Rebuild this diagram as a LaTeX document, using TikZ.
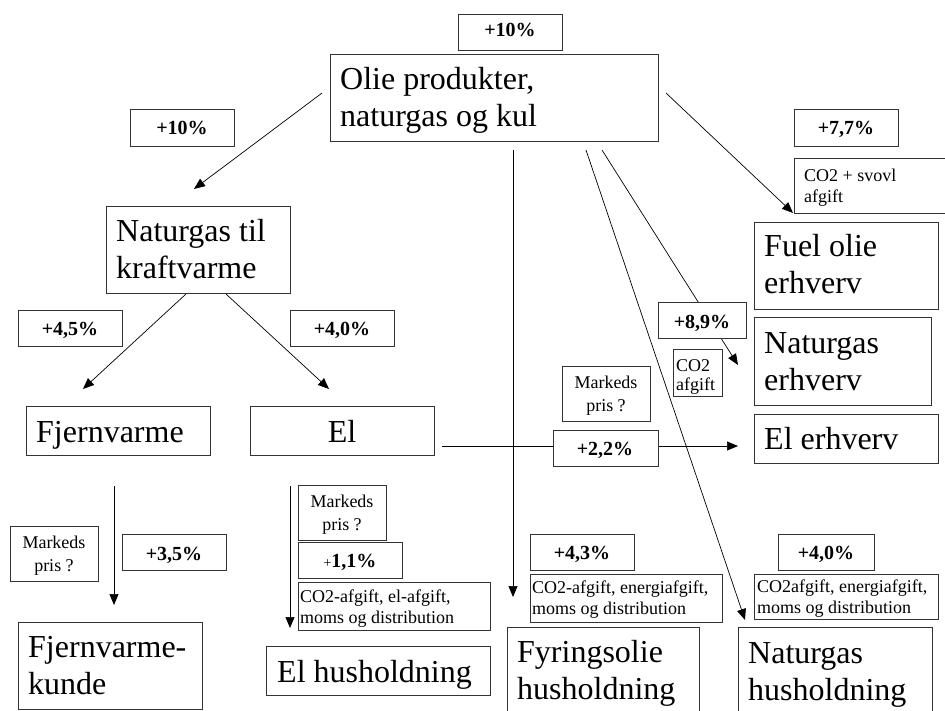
\documentclass[tikz,border=0pt]{standalone}
\usepackage{fontspec}
\setmainfont{Liberation Serif}
\usetikzlibrary{arrows.meta,backgrounds}
\newcommand\twol[2]{\vtop{\hbox{#1}\hbox{#2}}}
\newcommand\twoc[2]{\vtop{\halign{\hfil##\hfil\cr#1\cr#2\cr}}}
\newcommand\mybox[5]{\node[box, minimum width={(#4-#2)*1pt}, minimum height={(#5-#3)*1pt}] (#1) at ({(#2+#4)/2},{(#3+#5)/2}) {};}
\begin{document}
\begin{tikzpicture}[x=1pt,y=-1pt,
 box/.style={draw=black!80, fill=white, line width=0.9pt, inner sep=0pt, outer sep=0pt},
 big/.style={font=\fontsize{32}{37}\selectfont, inner sep=0pt},
 small/.style={font=\fontsize{18}{21}\selectfont, inner sep=0pt},
 mp/.style={font=\fontsize{18}{23.5}\selectfont, inner sep=0pt},
 pct/.style={font=\fontsize{20}{23}\selectfont\bfseries, inner sep=0pt},
 conn/.style={line width=0.7pt},
 arr/.style={line width=0.7pt, -{Triangle[length=11pt,width=9pt]}}]
\useasboundingbox (0,0) rectangle (945,711);
% boxes
\mybox{p10top}{458}{14}{562}{50}
\mybox{olie}{330}{54}{658}{141}
\mybox{p10l}{130}{109}{234}{146}
\mybox{natur}{106}{206}{290}{293}
\mybox{p45}{18}{310}{122}{346}
\mybox{p40a}{290}{310}{394}{346}
\mybox{fjern}{26}{406}{210}{455}
\mybox{el}{250}{406}{434}{455}
\mybox{mp1}{10}{526}{98}{581}
\mybox{p35}{122}{534}{226}{570}
\mybox{fjk}{18}{622}{202}{709}
\mybox{mp2}{298}{485}{386}{540}
\mybox{p11}{298}{542}{402}{578}
\mybox{elafg}{298}{582}{490}{630}
\mybox{elhus}{266}{646}{490}{695}
\mybox{mp3}{562}{366}{650}{421}
\mybox{p22}{553}{430}{658}{466}
\mybox{elerh}{754}{414}{938}{463}
\mybox{p77}{794}{109}{898}{146}
\mybox{svovl}{794}{158}{948}{213}
\mybox{fuel}{754}{222}{938}{309}
\mybox{p89}{658}{302}{746}{338}
\mybox{co2s}{673}{349}{722}{396}
\mybox{ngerh}{754}{317}{931}{405}
\mybox{p43}{530}{534}{634}{570}
\mybox{fyafg}{530}{574}{722}{622}
\mybox{fyhus}{507}{627}{699}{716}
\mybox{p40b}{778}{534}{874}{570}
\mybox{ngafg}{754}{574}{938}{619}
\mybox{nghus}{738}{627}{932}{716}
% connector end points
\coordinate (s1) at (322,93);  \coordinate (e1) at (194,189);
\coordinate (s2) at (186,294); \coordinate (e2) at (83,389);
\coordinate (s3) at (226,294); \coordinate (e3) at (329,389);
\coordinate (s4) at (666,93);  \coordinate (e4) at (793,213);
\coordinate (s5) at (513,150); \coordinate (e5) at (513,597);
\coordinate (s6) at (586,150); \coordinate (e6) at (745,620);
\coordinate (s7) at (602,150); \coordinate (e7) at (738,365);
\coordinate (s8) at (442,446); \coordinate (e8) at (738,446);
\coordinate (s9) at (114,486); \coordinate (e9) at (114,605);
\coordinate (s10) at (290,486); \coordinate (e10) at (290,628);
\begin{pgfonlayer}{background}
\draw[arr] (s1) -- (e1);
\draw[arr] (s2) -- (e2);
\draw[arr] (s3) -- (e3);
\draw[arr] (s4) -- (e4);
\draw[arr] (s5) -- (e5);
\draw[arr] (s6) -- (e6);
\draw[arr] (s7) -- (e7);
\draw[conn] (s8) -- (s8 -| p22.west);
\draw[arr] (s8 -| p22.east) -- (e8);
\draw[arr] (s9) -- (e9);
\draw[arr] (s10) -- (e10);
\end{pgfonlayer}
% big texts
\node[big, anchor=base west] (tolie) at (340,90) {\twol{Olie produkter,}{naturgas og kul}};
\node[big, anchor=base west] (tnatur) at (116,242) {\twol{Naturgas til}{kraftvarme}};
\node[big, anchor=base west] (tfjern) at (36,442) {Fjernvarme};
\node[big, anchor=base] (tel) at (342,442) {El};
\node[big, anchor=base west] (tfjk) at (28,657) {\twol{Fjernvarme-}{kunde}};
\node[big, anchor=base west] (telhus) at (277,682) {El husholdning};
\node[big, anchor=base west] (tfyhus) at (517,662) {\twol{Fyringsolie}{husholdning}};
\node[big, anchor=base west] (tnghus) at (748,663) {\twol{Naturgas}{husholdning}};
\node[big, anchor=base west] (tfuel) at (764,257) {\twol{Fuel olie}{erhverv}};
\node[big, anchor=base west] (tngerh) at (764,353) {\twol{Naturgas}{erhverv}};
\node[big, anchor=base west] (telerh) at (764,449) {El erhverv};
% percentages
\node[pct, anchor=base] (tp10top) at (510,37) {+10\%};
\node[pct, anchor=base] (tp10l) at (182,135) {+10\%};
\node[pct, anchor=base] (tp45) at (70,335) {+4,5\%};
\node[pct, anchor=base] (tp40a) at (342,335) {+4,0\%};
\node[pct, anchor=base] (tp35) at (174,560) {+3,5\%};
\node[pct, anchor=base] (tp22) at (605,455) {+2,2\%};
\node[pct, anchor=base] (tp77) at (846,135) {+7,7\%};
\node[pct, anchor=base] (tp89) at (702,328) {+8,9\%};
\node[pct, anchor=base] (tp43) at (582,559) {+4,3\%};
\node[pct, anchor=base] (tp40b) at (826,559) {+4,0\%};
\node[pct, anchor=base] (tp11) at (350,567) {{\mdseries\fontsize{14}{16}\selectfont+}1,1\%};
% small texts
\node[mp, anchor=base] (tmp1) at (54,548) {\twoc{Markeds}{pris ?}};
\node[mp, anchor=base] (tmp2) at (342,507) {\twoc{Markeds}{pris ?}};
\node[mp, anchor=base] (tmp3) at (606,388) {\twoc{Markeds}{pris ?}};
\node[small, anchor=base west] (telafg) at (300,602) {\twol{CO2-afgift, el-afgift,}{moms og distribution}};
\node[small, anchor=base west] (tfyafg) at (532,593) {\twol{CO2-afgift, energiafgift,}{moms og distribution}};
\node[small, anchor=base west] (tngafg) at (757,592) {\twol{CO2afgift, energiafgift,}{moms og distribution}};
\node[small, anchor=base west] (tsvovl) at (804,182) {\twol{CO2 + svovl}{afgift}};
\node[small, anchor=base west, font=\fontsize{18}{19.5}\selectfont] (tco2s) at (676,371) {\twol{CO2}{afgift}};
\end{tikzpicture}
\end{document}
